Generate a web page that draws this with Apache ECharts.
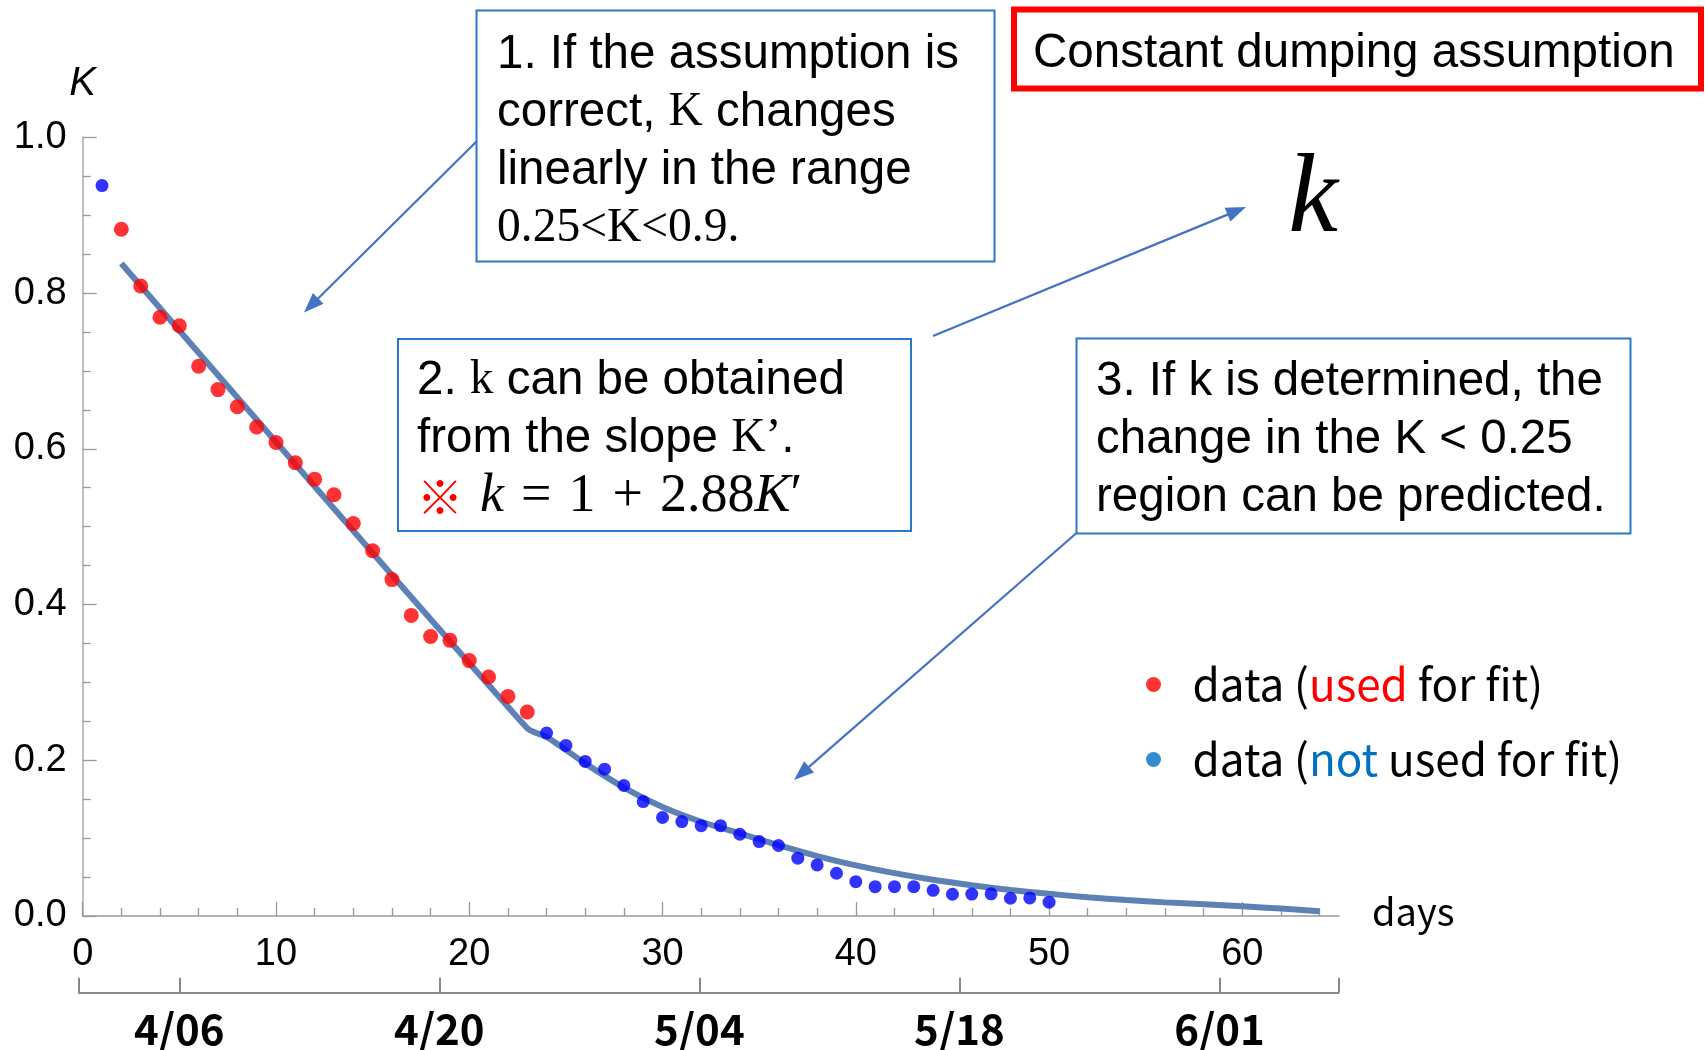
<!DOCTYPE html>
<html>
<head>
<meta charset="utf-8">
<script src="https://cdn.jsdelivr.net/npm/echarts@6/dist/echarts.min.js"></script>
<style>
  html, body { margin: 0; padding: 0; background: #ffffff; }
  #chart { width: 1705px; height: 1050px; }
</style>
</head>
<body>
<div id="chart"></div>
<script>
// Observed K values: days used for the linear fit
const usedDays = [2, 3, 4, 5, 6, 7, 8, 9, 10, 11, 12, 13, 14, 15, 16, 17, 18, 19, 20, 21, 22, 23];
const usedK = [0.882, 0.809, 0.769, 0.758, 0.706, 0.676, 0.654, 0.628, 0.608, 0.582, 0.561, 0.541,
               0.504, 0.469, 0.432, 0.386, 0.359, 0.354, 0.328, 0.307, 0.282, 0.262];

// Observed K values not used for the fit
const otherDays = [1, 24, 25, 26, 27, 28, 29, 30, 31, 32, 33, 34, 35, 36, 37, 38, 39, 40, 41, 42,
                   43, 44, 45, 46, 47, 48, 49, 50];
const otherK = [0.938, 0.235, 0.219, 0.1985, 0.1886, 0.1676, 0.147, 0.1265, 0.1213, 0.116, 0.116,
                0.105, 0.0956, 0.0905, 0.0742, 0.0656, 0.0549, 0.0441, 0.0377, 0.0377, 0.0377,
                0.033, 0.0279, 0.0281, 0.0285, 0.0228, 0.0232, 0.0178];

// Fitted curve: linear part (days 2-23), then the predicted decay
const fitDays = [2, 23, 24, 26, 28, 30, 32, 34, 36, 38, 40, 42, 44, 46, 48, 50, 52, 54, 56, 58, 60, 62, 64];
const fitK = [0.838, 0.241, 0.230, 0.196, 0.165, 0.140, 0.121, 0.106, 0.091, 0.077, 0.065, 0.055,
              0.0465, 0.0395, 0.0335, 0.0285, 0.024, 0.0205, 0.0175, 0.015, 0.0125, 0.0095, 0.006];

// Axis ticks
const dayTicks = [0, 10, 20, 30, 40, 50, 60];
const dayMinorTicks = [2, 4, 6, 8, 12, 14, 16, 18, 22, 24, 26, 28, 32, 34, 36, 38, 42, 44, 46, 48,
                       52, 54, 56, 58, 62, 64];
const dateOffsets = [0, 14, 28, 42, 56];          // days after 4/06
const dateLabels = ['4/06', '4/20', '5/04', '5/18', '6/01'];
const dateMin = -5.4, dateMax = 62.4;

const SANS = "'Liberation Sans', Arial, sans-serif";
const SERIF = "'Liberation Serif', 'Times New Roman', serif";
const JP = "'Noto Sans CJK JP', 'Noto Sans', sans-serif";
const BOX = '#2a78c4';
const ARROW = '#4472c4';
const FS = 47.5;

function arrow(x1, y1, x2, y2) {
  const dx = x2 - x1, dy = y2 - y1, len = Math.hypot(dx, dy);
  const ux = dx / len, uy = dy / len, hl = 20, hw = 7.5;
  const bx = x2 - ux * hl, by = y2 - uy * hl;
  return {
    type: 'group', silent: true,
    children: [
      { type: 'line', shape: { x1: x1, y1: y1, x2: bx + ux * 2, y2: by + uy * 2 },
        style: { stroke: ARROW, lineWidth: 2.2 } },
      { type: 'polygon', shape: { points: [[x2, y2], [bx - uy * hw, by + ux * hw], [bx + uy * hw, by - ux * hw]] },
        style: { fill: ARROW } }
    ]
  };
}

function box(x, y, w, h, stroke, lw) {
  return { type: 'rect', silent: true, shape: { x: x, y: y, width: w, height: h },
           style: { fill: '#ffffff', stroke: stroke, lineWidth: lw }, z: 10 };
}

function textBlock(x, y, text, rich) {
  return { type: 'text', silent: true, x: x, y: y, z: 11,
           style: { text: text, rich: rich, fontFamily: SANS, fontSize: FS, lineHeight: 58,
                    fill: '#000', align: 'left', verticalAlign: 'top' } };
}

const richBox = {
  a: { fontFamily: SANS, fontSize: FS, lineHeight: 58, fill: '#000' },
  s: { fontFamily: SERIF, fontSize: FS, lineHeight: 58, fill: '#000' },
  i: { fontFamily: SERIF, fontStyle: 'italic', fontSize: 54, lineHeight: 58, fill: '#000' },
  m: { fontFamily: SERIF, fontSize: 54, lineHeight: 58, fill: '#000' },
  g: { width: 17, lineHeight: 58 },
  r: { fontFamily: JP, fontSize: 46, lineHeight: 58, fill: '#ff0000' }
};

const chart = echarts.init(document.getElementById('chart'), null, { renderer: 'canvas' });

chart.setOption({
  backgroundColor: '#ffffff',
  animation: false,
  grid: [
    { left: 82.7, right: 366, top: 137.3, bottom: 134 },
    { left: 79, right: 366.7, top: 991.7, height: 1 }
  ],
  xAxis: [
    {
      type: 'value', gridIndex: 0, min: 0, max: 65,
      axisLine: { show: true, lineStyle: { color: '#999', width: 1.5 } },
      axisTick: { show: true, inside: true, length: 14, customValues: dayTicks,
                  lineStyle: { color: '#999', width: 1.3 } },
      axisLabel: { customValues: dayTicks, fontFamily: SANS, fontSize: 38, color: '#000', margin: 20 },
      splitLine: { show: false }
    },
    {
      type: 'value', gridIndex: 0, min: 0, max: 65, position: 'bottom',
      axisLine: { show: false },
      axisTick: { show: true, inside: true, length: 8, customValues: dayMinorTicks,
                  lineStyle: { color: '#999', width: 1.3 } },
      axisLabel: { show: false },
      splitLine: { show: false }
    },
    {
      type: 'value', gridIndex: 1, min: dateMin, max: dateMax, position: 'bottom',
      axisLine: { show: true, lineStyle: { color: '#888', width: 2 } },
      axisTick: { show: true, inside: true, length: 15,
                  customValues: [dateMin].concat(dateOffsets, [dateMax]),
                  lineStyle: { color: '#888', width: 2 } },
      axisLabel: {
        customValues: dateOffsets, fontFamily: JP, fontWeight: 'bold', fontSize: 42, color: '#000', margin: 15,
        formatter: function (v) { return dateLabels[dateOffsets.indexOf(v)]; }
      },
      splitLine: { show: false }
    }
  ],
  yAxis: [
    {
      type: 'value', gridIndex: 0, min: 0, max: 1, interval: 0.2,
      name: 'K', nameLocation: 'end', nameGap: 33,
      nameTextStyle: { fontFamily: SANS, fontStyle: 'italic', fontSize: 40, color: '#000', align: 'center' },
      axisLine: { show: true, lineStyle: { color: '#aaa', width: 1.5 } },
      axisTick: { show: true, inside: true, length: 14, lineStyle: { color: '#999', width: 1.3 } },
      minorTick: { show: true, splitNumber: 4, length: 8, lineStyle: { color: '#999', width: 1.3 } },
      axisLabel: { fontFamily: SANS, fontSize: 38, color: '#000', margin: 16,
                   formatter: function (v) { return v.toFixed(1); } },
      splitLine: { show: false }
    },
    { type: 'value', gridIndex: 1, min: 0, max: 1, show: false }
  ],
  legend: {
    orient: 'vertical', left: 1141, top: 655.5, icon: 'circle',
    itemWidth: 68, itemHeight: 15, itemGap: 27,
    selectedMode: false,
    data: [
      { name: 'used', itemStyle: { color: '#ff0000' } },
      { name: 'notused', itemStyle: { color: '#0070c0' } }
    ],
    formatter: function (name) {
      return name === 'used'
        ? '{t|data (}{r|used}{t| for fit)}'
        : '{t|data (}{b|not}{t| used for fit)}';
    },
    textStyle: {
      fontFamily: JP, fontSize: 44, lineHeight: 48, color: '#000',
      rich: {
        t: { fontFamily: JP, fontSize: 44, lineHeight: 48, color: '#000' },
        r: { fontFamily: JP, fontSize: 44, lineHeight: 48, color: '#ff0000' },
        b: { fontFamily: JP, fontSize: 44, lineHeight: 48, color: '#0070c0' }
      }
    }
  },
  series: [
    {
      name: 'fit', type: 'line', xAxisIndex: 0, yAxisIndex: 0, z: 2,
      data: fitDays.map(function (d, i) { return [d, fitK[i]]; }),
      showSymbol: false, smooth: 0.25, silent: true,
      lineStyle: { color: '#5e81b5', width: 6 }
    },
    {
      name: 'used', type: 'scatter', xAxisIndex: 0, yAxisIndex: 0, z: 3,
      data: usedDays.map(function (d, i) { return [d, usedK[i]]; }),
      symbol: 'circle', symbolSize: 15, itemStyle: { color: '#ff0000' }
    },
    {
      name: 'notused', type: 'scatter', xAxisIndex: 0, yAxisIndex: 0, z: 3,
      data: otherDays.map(function (d, i) { return [d, otherK[i]]; }),
      symbol: 'circle', symbolSize: 13, itemStyle: { color: '#0000ff' }
    }
  ],
  graphic: [
    arrow(476.5, 141.5, 304, 312.5),
    arrow(933, 336, 1246, 207),
    arrow(1076.5, 533, 794, 780),

    box(476.5, 10.5, 518, 251, BOX, 2),
    textBlock(497, 25.5, '{a|1. If the assumption is}\n{a|correct, }{s|K}{a| changes}\n{a|linearly in the range}\n{s|0.25<K<0.9.}', richBox),

    box(398, 339, 513, 192, BOX, 2),
    textBlock(417, 352, '{a|2. }{s|k}{a| can be obtained}\n{a|from the slope }{s|K’}{a|.}\n{r|※}{g|}{i|k}{g|}{m|=}{g|}{m|1}{g|}{m|+}{g|}{m|2.88}{i|K}{m|′}', richBox),

    box(1076.5, 338.5, 554, 195, BOX, 2),
    textBlock(1096, 353, '{a|3. If k is determined, the}\n{a|change in the K < 0.25}\n{a|region can be predicted.}', richBox),

    box(1014, 9.5, 687, 79, '#ff0000', 6),
    { type: 'text', silent: true, x: 1033, y: 54, z: 11,
      style: { text: 'Constant dumping assumption', fontFamily: SANS, fontSize: FS, fill: '#000',
               align: 'left', verticalAlign: 'middle' } },

    { type: 'text', silent: true, x: 1313, y: 202, z: 11,
      style: { text: 'k', fontFamily: SERIF, fontStyle: 'italic', fontSize: 112, fill: '#000',
               align: 'center', verticalAlign: 'middle' } },

    // horizontal axis title, right of the day axis
    { type: 'text', silent: true, x: 1372, y: 912, z: 11,
      style: { text: 'days', fontFamily: JP, fontSize: 38, fill: '#000',
               align: 'left', verticalAlign: 'middle' } }
  ]
});
</script>
</body>
</html>
